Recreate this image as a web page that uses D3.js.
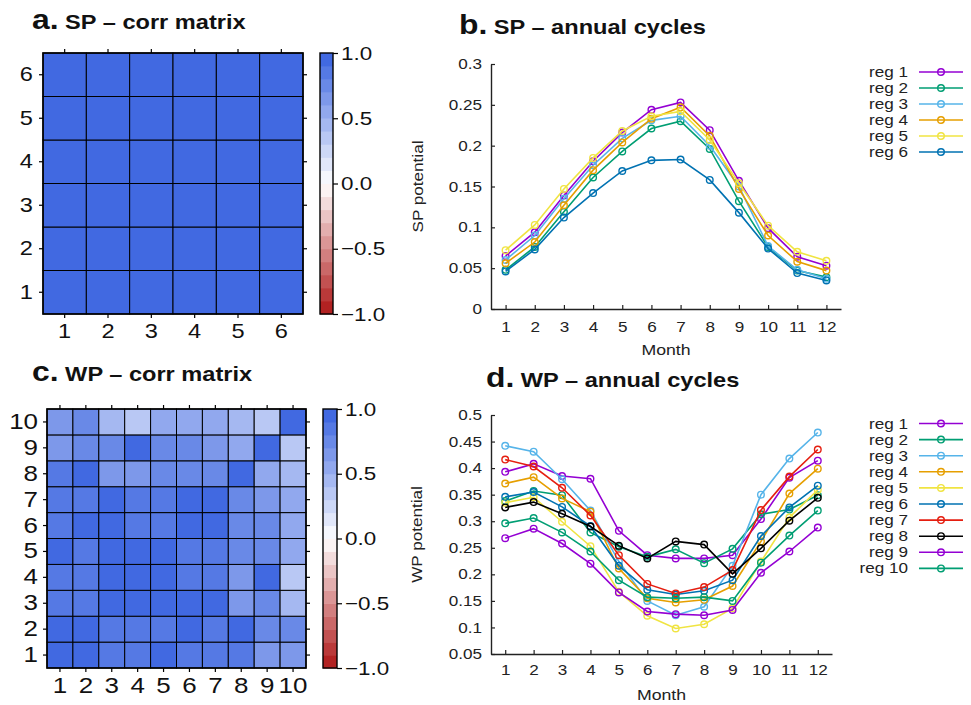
<!DOCTYPE html>
<html>
<head>
<meta charset="utf-8">
<script src="https://cdn.jsdelivr.net/npm/d3@7"></script>
<style>
  body { margin: 0; background: #fff; }
  text { font-family: "Liberation Sans", Arial, sans-serif; fill: #222; }
</style>
</head>
<body>
<script>
// data: correlation matrices (row 1 = bottom row), values in [-1, 1]
var spCorr = [
  [1.00, 0.98, 0.98, 0.98, 0.98, 0.98],
  [0.98, 1.00, 0.98, 0.98, 0.98, 0.98],
  [0.98, 0.98, 1.00, 0.98, 0.98, 0.98],
  [0.98, 0.98, 0.98, 1.00, 0.98, 0.98],
  [0.98, 0.98, 0.98, 0.98, 1.00, 0.98],
  [0.98, 0.98, 0.98, 0.98, 0.98, 1.00]
];
var wpCorr = [
  [1.00, 0.95, 0.85, 0.85, 0.95, 0.85, 0.85, 0.85, 0.65, 0.65],
  [0.95, 1.00, 0.85, 0.85, 0.85, 0.95, 0.85, 0.95, 0.70, 0.70],
  [0.85, 0.85, 1.00, 0.95, 0.95, 0.95, 0.95, 0.65, 0.75, 0.45],
  [0.85, 0.85, 0.95, 1.00, 0.95, 0.85, 0.85, 0.65, 0.95, 0.35],
  [0.95, 0.85, 0.95, 0.95, 1.00, 0.85, 0.85, 0.75, 0.75, 0.50],
  [0.85, 0.95, 0.95, 0.85, 0.85, 1.00, 0.95, 0.75, 0.70, 0.50],
  [0.85, 0.85, 0.95, 0.85, 0.85, 0.95, 1.00, 0.75, 0.65, 0.55],
  [0.85, 0.95, 0.65, 0.65, 0.75, 0.75, 0.75, 1.00, 0.55, 0.45],
  [0.65, 0.70, 0.75, 0.95, 0.75, 0.70, 0.65, 0.55, 1.00, 0.35],
  [0.65, 0.70, 0.45, 0.35, 0.50, 0.50, 0.55, 0.45, 0.35, 1.00]
];
var colorbarTicks = [-1, -0.5, 0, 0.5, 1];

// data: annual cycles
var months = [1, 2, 3, 4, 5, 6, 7, 8, 9, 10, 11, 12];
var spRegions = ["reg 1", "reg 2", "reg 3", "reg 4", "reg 5", "reg 6"];
var spValues = [
  [0.065, 0.094, 0.139, 0.181, 0.216, 0.244, 0.253, 0.219, 0.157, 0.099, 0.064, 0.053],
  [0.048, 0.076, 0.119, 0.161, 0.193, 0.221, 0.230, 0.196, 0.132, 0.076, 0.047, 0.039],
  [0.060, 0.090, 0.135, 0.176, 0.209, 0.231, 0.236, 0.200, 0.150, 0.077, 0.048, 0.037],
  [0.056, 0.082, 0.127, 0.170, 0.204, 0.233, 0.247, 0.212, 0.147, 0.090, 0.058, 0.047],
  [0.072, 0.103, 0.147, 0.185, 0.218, 0.236, 0.242, 0.207, 0.154, 0.102, 0.070, 0.059],
  [0.046, 0.073, 0.112, 0.142, 0.169, 0.182, 0.183, 0.158, 0.118, 0.074, 0.044, 0.035]
];
var spTicks = [0, 0.05, 0.1, 0.15, 0.2, 0.25, 0.3];

var wpRegions = ["reg 1", "reg 2", "reg 3", "reg 4", "reg 5", "reg 6", "reg 7", "reg 8", "reg 9", "reg 10"];
var wpValues = [
  [0.393, 0.408, 0.385, 0.380, 0.282, 0.236, 0.230, 0.230, 0.236, 0.304, 0.382, 0.414],
  [0.338, 0.357, 0.349, 0.279, 0.252, 0.233, 0.247, 0.221, 0.248, 0.313, 0.322, 0.349],
  [0.442, 0.431, 0.379, 0.320, 0.224, 0.150, 0.123, 0.139, 0.216, 0.350, 0.418, 0.467],
  [0.371, 0.383, 0.343, 0.318, 0.211, 0.155, 0.147, 0.152, 0.178, 0.262, 0.352, 0.399],
  [0.335, 0.345, 0.299, 0.253, 0.167, 0.122, 0.098, 0.106, 0.136, 0.224, 0.307, 0.359],
  [0.346, 0.355, 0.327, 0.291, 0.216, 0.171, 0.162, 0.169, 0.189, 0.272, 0.326, 0.367],
  [0.416, 0.403, 0.363, 0.311, 0.236, 0.182, 0.164, 0.176, 0.208, 0.321, 0.384, 0.435],
  [0.326, 0.336, 0.314, 0.290, 0.254, 0.230, 0.262, 0.256, 0.201, 0.249, 0.301, 0.344],
  [0.268, 0.286, 0.258, 0.220, 0.166, 0.130, 0.125, 0.123, 0.133, 0.203, 0.243, 0.288],
  [0.296, 0.306, 0.279, 0.243, 0.189, 0.157, 0.155, 0.157, 0.150, 0.222, 0.273, 0.320]
];
var wpTicks = [0.05, 0.1, 0.15, 0.2, 0.25, 0.3, 0.35, 0.4, 0.45, 0.5];

// gnuplot-like line colours
var seriesColors = ["#9400d3", "#009e73", "#56b4e9", "#e69f00", "#f0e442", "#0072b2", "#e51e10", "#000000", "#9400d3", "#009e73"];

var svg = d3.select("body").append("svg")
  .attr("width", 971)
  .attr("height", 705);

// the original figure is a bit wider than tall, so text is stretched horizontally
var SX = 1.18;
function stretch(sel) {
  sel.each(function () {
    var t = d3.select(this);
    var x = +t.attr("x") || 0;
    var y = +t.attr("y") || 0;
    t.attr("x", null).attr("y", null)
      .attr("transform", "translate(" + x + "," + y + ") scale(" + SX + ",1)");
  });
}

function title(x, y, letter, rest) {
  var t = svg.append("text")
    .attr("x", x).attr("y", y)
    .attr("font-weight", "bold")
    .style("fill", "#111");
  t.append("tspan").attr("font-size", 27).text(letter);
  t.append("tspan").attr("font-size", 20).text(" " + rest);
  stretch(t);
}

// discrete colour ramp with 20 levels: firebrick - white - royalblue
var ramp = d3.scaleLinear()
  .domain([0, 9.5, 19])
  .range(["#b22222", "#ffffff", "#4169e1"]);
function bandColor(v) {
  var k = Math.floor((v + 1) / 0.1 + 1e-9);
  return ramp(Math.max(0, Math.min(19, k)));
}

function corrMatrix(box, cbar, matrix, fontSize, labelGap) {
  var n = matrix.length;
  var labels = matrix.map((row, i) => i + 1);
  var x = d3.scaleBand().domain(labels).range([box.x0, box.x1]);
  var y = d3.scaleBand().domain(labels).range([box.y1, box.y0]);
  var g = svg.append("g");

  var cells = [];
  matrix.forEach((row, i) => row.forEach((v, j) => cells.push({ r: i + 1, c: j + 1, v: v })));

  g.selectAll("rect.cell")
    .data(cells)
    .enter()
    .append("rect")
    .attr("class", "cell")
    .attr("x", d => x(d.c))
    .attr("y", d => y(d.r))
    .attr("width", x.bandwidth())
    .attr("height", y.bandwidth())
    .attr("fill", d => bandColor(d.v))
    .attr("stroke", "#000")
    .attr("stroke-width", 1);

  g.append("rect")
    .attr("x", box.x0).attr("y", box.y0)
    .attr("width", box.x1 - box.x0).attr("height", box.y1 - box.y0)
    .attr("fill", "none").attr("stroke", "#000").attr("stroke-width", 1.6);

  // ticks on all four sides, labels only left and bottom
  var left = g.append("g").attr("transform", "translate(" + box.x0 + ",0)")
    .call(d3.axisLeft(y).tickSize(4).tickSizeOuter(0).tickPadding(labelGap));
  var bottom = g.append("g").attr("transform", "translate(0," + box.y1 + ")")
    .call(d3.axisBottom(x).tickSize(4).tickSizeOuter(0).tickPadding(labelGap));
  g.append("g").attr("transform", "translate(0," + box.y0 + ")")
    .call(d3.axisTop(x).tickSize(4).tickSizeOuter(0).tickFormat(""));
  g.append("g").attr("transform", "translate(" + box.x1 + ",0)")
    .call(d3.axisRight(y).tickSize(4).tickSizeOuter(0).tickFormat(""));

  g.selectAll(".domain").remove();
  g.selectAll(".tick line").attr("stroke", "#000").attr("stroke-width", 1.2);
  g.selectAll(".tick text")
    .attr("font-size", fontSize)
    .attr("font-family", "'Liberation Sans', Arial, sans-serif")
    .style("fill", "#111");
  stretch(left.selectAll(".tick text"));
  stretch(bottom.selectAll(".tick text"));

  // colour bar
  var cy = d3.scaleLinear().domain([-1, 1]).range([box.y1, box.y0]);
  var levels = d3.range(20);
  g.selectAll("rect.level")
    .data(levels)
    .enter()
    .append("rect")
    .attr("class", "level")
    .attr("x", cbar.x0)
    .attr("y", d => cy(-1 + 0.1 * (d + 1)))
    .attr("width", cbar.x1 - cbar.x0)
    .attr("height", d => cy(-1 + 0.1 * d) - cy(-1 + 0.1 * (d + 1)) + 0.5)
    .attr("fill", d => ramp(d));
  g.append("rect")
    .attr("x", cbar.x0).attr("y", box.y0)
    .attr("width", cbar.x1 - cbar.x0).attr("height", box.y1 - box.y0)
    .attr("fill", "none").attr("stroke", "#000").attr("stroke-width", 1.4);
  var cax = g.append("g").attr("transform", "translate(" + cbar.x1 + ",0)")
    .call(d3.axisRight(cy).tickValues(colorbarTicks).tickFormat(d3.format(".1f")).tickSize(5).tickSizeOuter(0).tickPadding(3));
  cax.select(".domain").remove();
  cax.selectAll(".tick line").attr("stroke", "#000").attr("stroke-width", 1.2);
  cax.selectAll(".tick text")
    .attr("font-size", 19)
    .attr("font-family", "'Liberation Sans', Arial, sans-serif")
    .style("fill", "#111");
  stretch(cax.selectAll(".tick text"));
}

function annualCycle(box, yDomain, yTicks, yLabel, regions, values, legend) {
  var x = d3.scaleLinear().domain([0.5, 12.5]).range([box.x0, box.x1]);
  var y = d3.scaleLinear().domain(yDomain).range([box.y1, box.y0]);
  var g = svg.append("g");

  var xa = g.append("g").attr("transform", "translate(0," + box.y1 + ")")
    .call(d3.axisBottom(x).tickValues(months).tickSizeInner(-4).tickSizeOuter(0).tickPadding(box.xPad));
  var ya = g.append("g").attr("transform", "translate(" + box.x0 + ",0)")
    .call(d3.axisLeft(y).tickValues(yTicks).tickFormat(d3.format("~g")).tickSizeInner(-4).tickSizeOuter(0).tickPadding(9));
  g.selectAll(".domain").attr("stroke", "#222").attr("stroke-width", 1.4);
  g.selectAll(".tick line").attr("stroke", "#222").attr("stroke-width", 1.2);
  g.selectAll(".tick text")
    .attr("font-size", 14.5)
    .attr("font-family", "'Liberation Sans', Arial, sans-serif")
    .style("fill", "#222");
  stretch(xa.selectAll(".tick text"));
  stretch(ya.selectAll(".tick text"));

  var xl = g.append("text")
    .attr("x", (box.x0 + box.x1) / 2).attr("y", box.monthY)
    .attr("text-anchor", "middle").attr("font-size", 15)
    .text("Month");
  stretch(xl);
  g.append("text")
    .attr("transform", "translate(" + box.labelX + "," + ((box.y0 + box.y1) / 2) + ") rotate(-90) scale(" + SX + ",1)")
    .attr("text-anchor", "middle").attr("font-size", 14.5)
    .text(yLabel);

  var line = d3.line()
    .x((d, i) => x(months[i]))
    .y(d => y(d));

  var series = g.selectAll("g.series")
    .data(values)
    .enter()
    .append("g")
    .attr("class", "series");
  series.append("path")
    .attr("d", d => line(d))
    .attr("fill", "none")
    .attr("stroke", (d, i) => seriesColors[i])
    .attr("stroke-width", 1.6);
  series.each(function (d, i) {
    d3.select(this).selectAll("circle")
      .data(d)
      .enter()
      .append("circle")
      .attr("cx", (v, j) => x(months[j]))
      .attr("cy", v => y(v))
      .attr("r", 3.3)
      .attr("fill", "none")
      .attr("stroke", seriesColors[i])
      .attr("stroke-width", 1.4);
  });

  // legend on the right
  var lg = g.selectAll("g.legend")
    .data(regions)
    .enter()
    .append("g")
    .attr("class", "legend")
    .attr("transform", (d, i) => "translate(0," + (legend.y + i * legend.step) + ")");
  lg.append("line")
    .attr("x1", 919).attr("x2", 963)
    .attr("stroke", (d, i) => seriesColors[i])
    .attr("stroke-width", 1.6);
  lg.append("circle")
    .attr("cx", 941).attr("r", 3.3)
    .attr("fill", "none")
    .attr("stroke", (d, i) => seriesColors[i])
    .attr("stroke-width", 1.4);
  var lt = lg.append("text")
    .attr("x", 908).attr("y", 5)
    .attr("text-anchor", "end")
    .attr("font-size", 14.5)
    .text(d => d);
  stretch(lt);
}

title(32, 29, "a.", "SP – corr matrix");
title(459, 34, "b.", "SP – annual cycles");
title(32, 381, "c.", "WP – corr matrix");
title(486, 387, "d.", "WP – annual cycles");

corrMatrix({ x0: 43, x1: 303, y0: 53, y1: 314 }, { x0: 320, x1: 333 }, spCorr, 20, 6);
corrMatrix({ x0: 47, x1: 306, y0: 409, y1: 668 }, { x0: 323, x1: 337 }, wpCorr, 22, 5);

annualCycle({ x0: 491, x1: 841, y0: 64, y1: 309, xPad: 13, monthY: 355, labelX: 423 },
  [0, 0.3], spTicks, "SP potential", spRegions, spValues, { y: 72, step: 16 });
annualCycle({ x0: 491, x1: 832, y0: 415, y1: 654, xPad: 11, monthY: 700, labelX: 422 },
  [0.05, 0.5], wpTicks, "WP potential", wpRegions, wpValues, { y: 423.5, step: 16.1 });
</script>
</body>
</html>
